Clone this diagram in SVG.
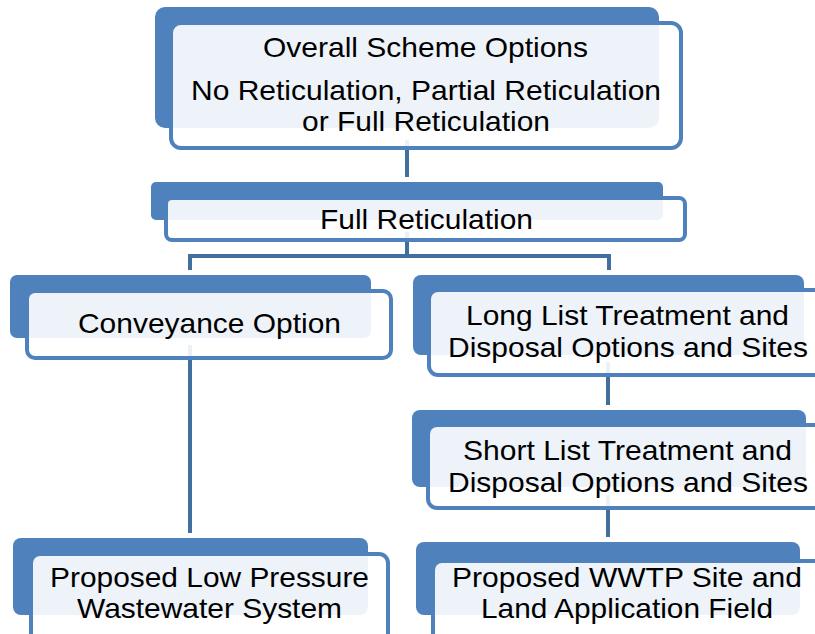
<svg xmlns="http://www.w3.org/2000/svg" width="815" height="634" viewBox="0 0 815 634">
<style>
.back{fill:#4F81BD}
.front{fill:#FFFFFF;fill-opacity:0.9;stroke:#4F81BD;stroke-width:4}
.conn{fill:none;stroke:#41709F;stroke-width:4}
text{font-family:"Liberation Sans",Arial,sans-serif;font-size:28px;fill:#000;text-anchor:middle}
</style>
<rect width="815" height="634" fill="#FFFFFF"/>
<g id="connectors">
<path class="conn" d="M407,140 V177"/>
<path class="conn" d="M407,232 V256"/>
<path class="conn" d="M190,270 V256 H609 V270"/>
<path class="conn" d="M190,345 V533"/>
<path class="conn" d="M608,362 V405"/>
<path class="conn" d="M608,495 V537"/>
</g>
<g id="node-overall">
<rect class="back" x="155" y="7" width="504" height="121" rx="10"/>
<rect class="front" x="171" y="23" width="510" height="125" rx="10"/>
<text x="425.5" y="57" textLength="325" lengthAdjust="spacingAndGlyphs">Overall Scheme Options</text>
<text x="426" y="100" textLength="470" lengthAdjust="spacingAndGlyphs">No Reticulation, Partial Reticulation</text>
<text x="426" y="131" textLength="248" lengthAdjust="spacingAndGlyphs">or Full Reticulation</text>
</g>
<g id="node-full">
<rect class="back" x="151" y="182" width="512" height="38" rx="5"/>
<rect class="front" x="166" y="198" width="519" height="42" rx="6"/>
<text x="426.5" y="229" textLength="213" lengthAdjust="spacingAndGlyphs">Full Reticulation</text>
</g>
<g id="node-conveyance">
<rect class="back" x="10" y="275" width="361" height="63" rx="7"/>
<rect class="front" x="27" y="291" width="364" height="67" rx="8"/>
<text x="209.5" y="333" textLength="263" lengthAdjust="spacingAndGlyphs">Conveyance Option</text>
</g>
<g id="node-longlist">
<rect class="back" x="413" y="275" width="391" height="80" rx="8"/>
<rect class="front" x="429" y="290" width="410" height="85" rx="9"/>
<text x="627.5" y="325" textLength="323" lengthAdjust="spacingAndGlyphs">Long List Treatment and</text>
<text x="628" y="357" textLength="360" lengthAdjust="spacingAndGlyphs">Disposal Options and Sites</text>
</g>
<g id="node-shortlist">
<rect class="back" x="412" y="410" width="394" height="77" rx="8"/>
<rect class="front" x="428" y="425" width="410" height="83" rx="9"/>
<text x="627.5" y="460" textLength="329" lengthAdjust="spacingAndGlyphs">Short List Treatment and</text>
<text x="628" y="492" textLength="360" lengthAdjust="spacingAndGlyphs">Disposal Options and Sites</text>
</g>
<g id="node-lowpressure">
<rect class="back" x="13" y="538" width="355" height="77" rx="8"/>
<rect class="front" x="31" y="554" width="357" height="100" rx="9"/>
<text x="209.5" y="587" textLength="319" lengthAdjust="spacingAndGlyphs">Proposed Low Pressure</text>
<text x="209.5" y="618" textLength="265" lengthAdjust="spacingAndGlyphs">Wastewater System</text>
</g>
<g id="node-wwtp">
<rect class="back" x="416" y="542" width="384" height="73" rx="8"/>
<rect class="front" x="433" y="561" width="400" height="100" rx="9"/>
<text x="627" y="587" textLength="350" lengthAdjust="spacingAndGlyphs">Proposed WWTP Site and</text>
<text x="627" y="618" textLength="292" lengthAdjust="spacingAndGlyphs">Land Application Field</text>
</g>
</svg>
